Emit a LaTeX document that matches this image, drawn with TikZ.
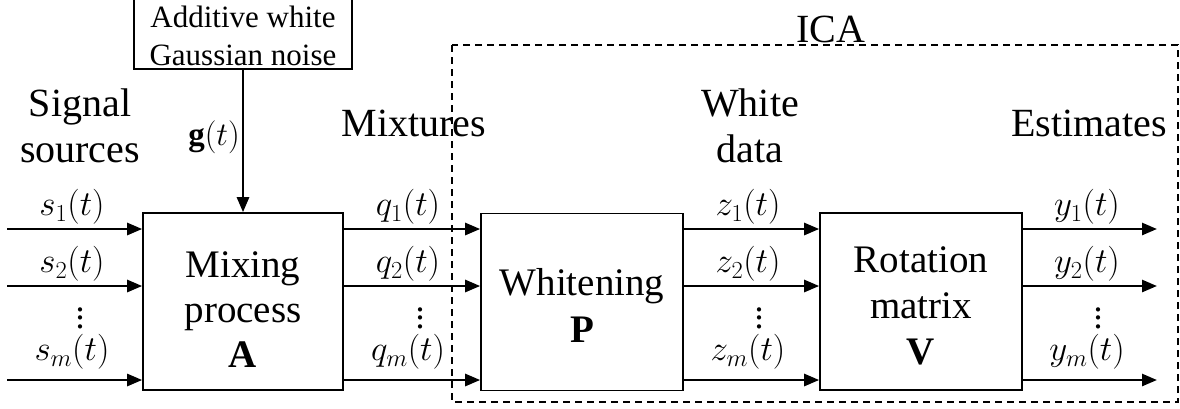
\RequirePackage{fix-cm}
\documentclass[tikz,border=0pt]{standalone}
\usepackage{fontspec}
\setmainfont{Liberation Serif}
\usetikzlibrary{arrows.meta}
\newcommand\mydots{\vbox{\baselineskip=8.5pt\lineskiplimit=-10pt\lineskip=0pt\hbox{.}\hbox{.}\hbox{.}}}
\begin{document}
\begin{tikzpicture}[x=1pt,y=-1pt,
  blk/.style={draw, line width=1.6pt, minimum width=200pt, minimum height=177pt, inner sep=0pt},
  lbl/.style={font=\fontsize{40}{46}\selectfont, align=center, inner sep=0pt},
  btxt/.style={font=\fontsize{39}{45}\selectfont, align=center, inner sep=0pt},
  sig/.style={font=\fontsize{35}{38}\selectfont, inner sep=0pt},
  dts/.style={font=\fontsize{36}{38}\selectfont, inner sep=0pt},
  arr/.style={line width=2.6pt, -{Triangle[length=15pt,width=12pt]}}]
\useasboundingbox (0,0) rectangle (1180,408);
% boxes
\node[blk] (mix) at (243,301.5) {};
\node[blk, minimum width=202pt] (wht) at (582,302) {};
\node[blk, minimum width=202pt] (rot) at (921,301.5) {};
\node[draw, line width=1.6pt, minimum width=218pt, minimum height=72pt, inner sep=0pt] (noise) at (243,33) {};
\node[font=\fontsize{31}{38}\selectfont, align=center, inner sep=0pt] (noisetxt) at (243,36) {Additive white\\Gaussian noise};
% dashed ICA box
\draw[dashed, dash pattern=on 7pt off 5pt, line width=1.5pt] (452,45) rectangle (1178,402);
\node[lbl] (ica) at (831,29) {ICA};
% block texts
\node[btxt] (mixtxt) at (243,310) {Mixing\\process\\$\mathbf{A}$};
\node[btxt, font=\fontsize{39}{47}\selectfont] (whttxt) at (582,305) {Whitening\\$\mathbf{P}$};
\node[btxt, font=\fontsize{39}{46}\selectfont] (rottxt) at (921,306) {Rotation\\matrix\\$\mathbf{V}$};
% group labels
\node[lbl] (srcl) at (80,126) {Signal\\sources};
\node[lbl] (mixl) at (414,123) {Mixtures};
\node[lbl] (whtl) at (750,126) {White\\data};
\node[lbl] (estl) at (1089,123) {Estimates};
% noise arrow
\draw[arr] (noise.south) -- (mix.north);
\node[sig, font=\fontsize{33}{36}\selectfont, anchor=east] (gl) at (240,137) {$\mathbf{g}(t)$};
% input arrows
\coordinate (i1) at (7,229);
\coordinate (i2) at (7,286);
\coordinate (i3) at (7,380);
\draw[arr] (i1) -- (i1 -| mix.west);
\draw[arr] (i2) -- (i2 -| mix.west);
\draw[arr] (i3) -- (i3 -| mix.west);
\node[sig] (s1) at (72,207) {$s_1(t)$};
\node[sig] (s2) at (72,264) {$s_2(t)$};
\node[dts] (s3) at (80,318) {\mydots};
\node[sig] (s4) at (72,352) {$s_m(t)$};
% mixing -> whitening
\coordinate (m1) at (mix.east |- i1);
\coordinate (m2) at (mix.east |- i2);
\coordinate (m3) at (mix.east |- i3);
\draw[arr] (m1) -- (m1 -| wht.west);
\draw[arr] (m2) -- (m2 -| wht.west);
\draw[arr] (m3) -- (m3 -| wht.west);
\node[sig] (q1) at (408,207) {$q_1(t)$};
\node[sig] (q2) at (408,264) {$q_2(t)$};
\node[dts] (q3) at (420,318) {\mydots};
\node[sig] (q4) at (408,352) {$q_m(t)$};
% whitening -> rotation
\coordinate (w1) at (wht.east |- i1);
\coordinate (w2) at (wht.east |- i2);
\coordinate (w3) at (wht.east |- i3);
\draw[arr] (w1) -- (w1 -| rot.west);
\draw[arr] (w2) -- (w2 -| rot.west);
\draw[arr] (w3) -- (w3 -| rot.west);
\node[sig] (z1) at (748,207) {$z_1(t)$};
\node[sig] (z2) at (748,264) {$z_2(t)$};
\node[dts] (z3) at (759,318) {\mydots};
\node[sig] (z4) at (748,352) {$z_m(t)$};
% rotation -> outputs
\coordinate (r1) at (rot.east |- i1);
\coordinate (r2) at (rot.east |- i2);
\coordinate (r3) at (rot.east |- i3);
\coordinate (o1) at (1157,229);
\coordinate (o2) at (1157,286);
\coordinate (o3) at (1157,380);
\draw[arr] (r1) -- (o1);
\draw[arr] (r2) -- (o2);
\draw[arr] (r3) -- (o3);
\node[sig] (y1) at (1087,207) {$y_1(t)$};
\node[sig] (y2) at (1087,264) {$y_2(t)$};
\node[dts] (y3) at (1098,318) {\mydots};
\node[sig] (y4) at (1087,352) {$y_m(t)$};
\end{tikzpicture}
\end{document}
